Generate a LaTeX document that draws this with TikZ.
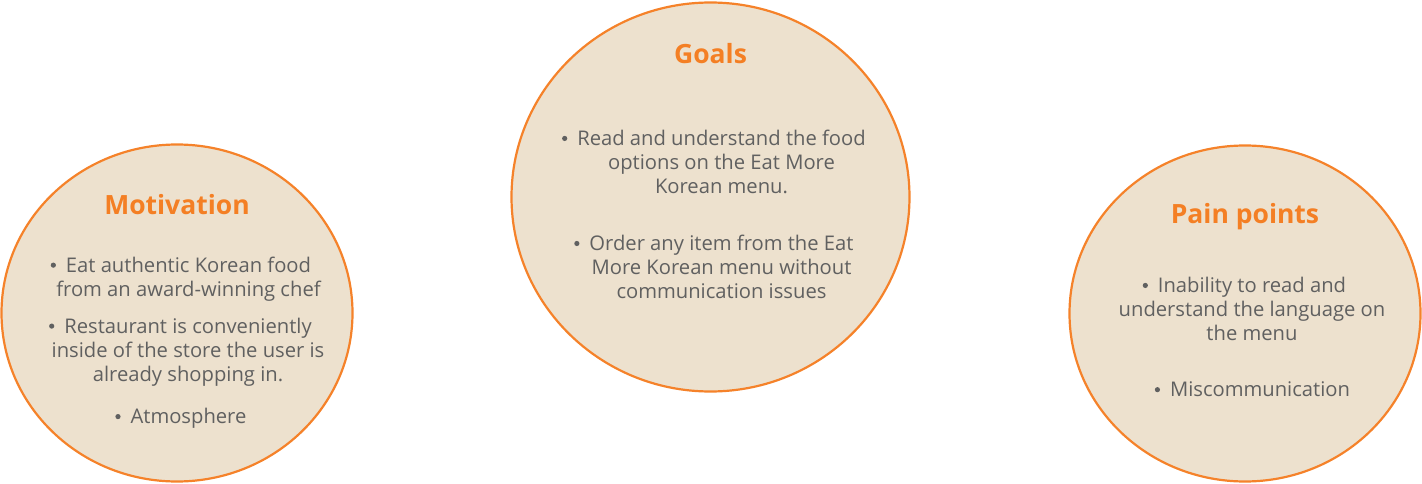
\documentclass[tikz,border=0pt]{standalone}
\usepackage{fontspec}
\setmainfont{Open Sans}
\definecolor{bubblefill}{HTML}{EDE1CE}
\definecolor{bubbleline}{HTML}{F5822A}
\definecolor{titlecol}{HTML}{F47F24}
\definecolor{bodycol}{HTML}{606060}
\newsavebox\bulbox
\sbox\bulbox{\tikz{\fill[bodycol] (0,0) circle [radius=2.6pt];}}
\newcommand\bul{\llap{\raisebox{0.42ex}{\usebox\bulbox}\hspace{10pt}}}
\tikzset{
  bubble/.style={draw=bubbleline, line width=2.2pt, fill=bubblefill},
  title/.style={text=titlecol, font=\fontsize{26.5pt}{30pt}\selectfont\bfseries, inner sep=0pt},
  item/.style={text=bodycol, font=\fontsize{20.2pt}{24pt}\selectfont, align=center, inner sep=0pt}
}
\begin{document}
\begin{tikzpicture}[x=1pt,y=-1pt]
\useasboundingbox (0,0) rectangle (1422,484);
% circles
\draw[bubble] (177,313) ellipse [x radius=175.5, y radius=168.5];
\draw[bubble] (710.5,197) ellipse [x radius=199, y radius=194.5];
\draw[bubble] (1245,313.5) ellipse [x radius=175.5, y radius=168];
% Motivation
\node[title] (mt) at (177,205) {Motivation};
\node[item] (m1) at (188.5,279) {\bul Eat authentic Korean food\\from an award-winning chef};
\node[item] (m2) at (188,352) {\bul Restaurant is conveniently\\inside of the store the user is\\already shopping in.};
\node[item] (m3) at (188.5,418.5) {\bul Atmosphere};
% Goals
\node[title] (gt) at (710.5,54) {Goals};
\node[item] (g1) at (721.5,162) {\bul Read and understand the food\\options on the Eat More\\Korean menu.};
\node[item] (g2) at (721.5,267) {\bul Order any item from the Eat\\More Korean menu without\\communication issues};
% Pain points
\node[title] (pt) at (1245,217) {Pain points};
\node[item] (p1) at (1252,309) {\bul Inability to read and\\understand the language on\\the menu};
\node[item] (p2) at (1260,389.5) {\bul Miscommunication};
\end{tikzpicture}
\end{document}
